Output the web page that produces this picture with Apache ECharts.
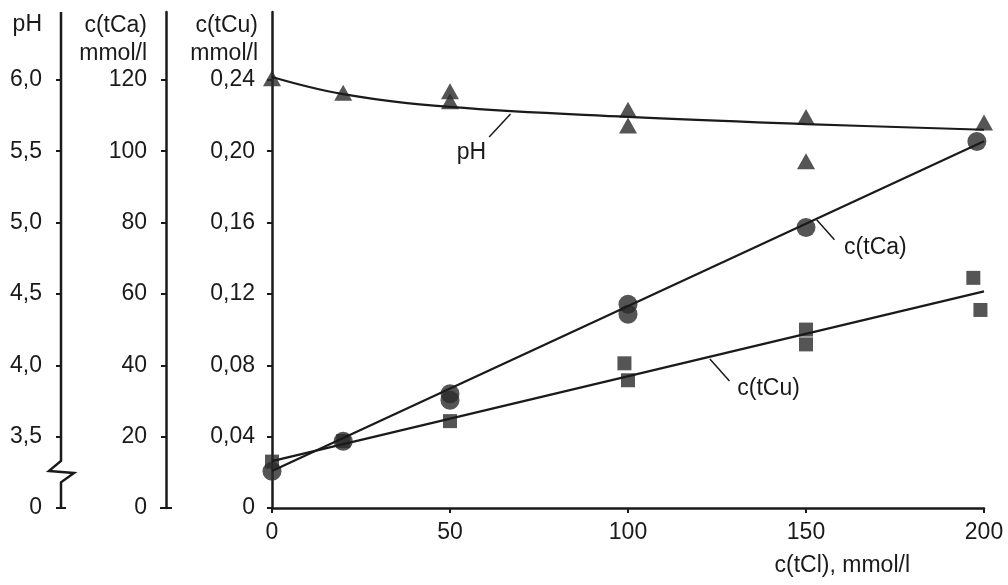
<!DOCTYPE html>
<html>
<head>
<meta charset="utf-8">
<script src="https://cdn.jsdelivr.net/npm/echarts@6/dist/echarts.min.js"></script>
<style>
  html, body { margin: 0; padding: 0; background: #fff; }
  #main { width: 1008px; height: 585px; }
</style>
</head>
<body>
<div id="main"></div>
<script>
// tick values on the axes
var xTicks = [0, 50, 100, 150, 200];
var cuTicks = [0, 0.04, 0.08, 0.12, 0.16, 0.20, 0.24];
var caTicks = [0, 20, 40, 60, 80, 100, 120];
var phTicks = [3.0, 3.5, 4.0, 4.5, 5.0, 5.5, 6.0]; // 3,0 is shown as "0" below the break

// measured points (x = c(tCl) mmol/l)
var phX = [0, 20, 50, 50, 100, 100, 150, 150, 200];
var phVals = [6.01, 5.91, 5.92, 5.85, 5.79, 5.68, 5.74, 5.43, 5.70];
var caX = [0, 20, 50, 50, 100, 100, 150, 198];
var caVals = [10.3, 18.7, 32.0, 30.2, 57.1, 54.3, 78.6, 102.7];
var cuX = [0, 20, 50, 99, 100, 150, 150, 197, 199];
var cuVals = [0.026, 0.0375, 0.0487, 0.0811, 0.0716, 0.100, 0.0917, 0.129, 0.111];

// fitted curves
var phFitX = [0, 20, 50, 100, 150, 200];
var phFit = [6.02, 5.90, 5.81, 5.74, 5.69, 5.65];
var caFitX = [0, 200];
var caFit = [10.4, 102.8];
var cuFitX = [0, 200];
var cuFit = [0.0263, 0.1214];

var FONT = 'Liberation Sans';
var INK = '#1a1a1a';
var MARK = '#2a2a2a';

function pairs(xs, ys) {
  var out = [];
  for (var i = 0; i < xs.length; i++) out.push([xs[i], ys[i]]);
  return out;
}
function comma(v, d) {
  return v.toFixed(d).replace('.', ',');
}

var chart = echarts.init(document.getElementById('main'));

var labelStyle = { color: INK, fontFamily: FONT, fontSize: 23 };

function yAxisBase(offset, min, max, ticks, labels, margin, fmt, name, pad, gap) {
  return {
    type: 'value',
    position: 'left',
    offset: offset,
    min: min,
    max: max,
    name: name,
    nameLocation: 'end',
    nameGap: gap,
    nameMoveOverlap: false,
    nameTextStyle: {
      color: INK, fontFamily: FONT, fontSize: 23, lineHeight: 28,
      align: 'right', verticalAlign: 'middle', padding: [0, pad, 0, 0]
    },
    splitLine: { show: false },
    axisLine: { show: true, lineStyle: { color: INK, width: 2.5 } },
    axisTick: { show: true, length: 5, customValues: ticks, lineStyle: { color: INK, width: 2 } },
    axisLabel: Object.assign({ margin: margin, customValues: labels, formatter: fmt }, labelStyle)
  };
}

var option = {
  animation: false,
  backgroundColor: '#fff',
  grid: { left: 272, right: 24, top: 12, bottom: 77, outerBoundsMode: 'none' },
  xAxis: {
    type: 'value',
    min: 0,
    max: 200,
    interval: 50,
    name: 'c(tCl), mmol/l',
    nameLocation: 'end',
    nameGap: -74,
    nameTextStyle: {
      color: INK, fontFamily: FONT, fontSize: 23,
      align: 'right', verticalAlign: 'top', padding: [46, 0, 0, 0]
    },
    splitLine: { show: false },
    axisLine: { onZero: false, lineStyle: { color: INK, width: 2.5 } },
    axisTick: { show: true, length: 5, lineStyle: { color: INK, width: 2 } },
    axisLabel: Object.assign({ margin: 13, customValues: xTicks }, labelStyle)
  },
  yAxis: [
    yAxisBase(0, 0, 0.278, cuTicks, cuTicks, 17,
      function (v) { return v === 0 ? '0' : comma(v, 2); }, 'c(tCu)\nmmol/l', 14, -28),
    // the 0 ticks of the two outer axes are drawn as caps further down
    yAxisBase(106, 0, 139, caTicks.slice(1), caTicks, 19,
      function (v) { return String(v); }, 'c(tCa)\nmmol/l', 19, -28),
    yAxisBase(211, 3, 6.475, phTicks.slice(1), phTicks, 19,
      function (v) { return v === 3 ? '0' : comma(v, 1); }, 'pH', 19, -13)
  ],
  series: [
    {
      name: 'pH fit', type: 'line', yAxisIndex: 2, smooth: 0.4, showSymbol: false,
      data: pairs(phFitX, phFit),
      lineStyle: { color: INK, width: 2.2 },
      markLine: {
        silent: true, symbol: 'none', label: { show: false },
        lineStyle: { color: INK, width: 1.5, type: 'solid' },
        data: [[{ coord: [61, 5.60] }, { coord: [67, 5.76] }]]
      },
      markPoint: {
        symbol: 'circle', symbolSize: 0,
        label: { show: true, formatter: 'pH', color: INK, fontFamily: FONT, fontSize: 23 },
        data: [{ coord: [56, 5.49] }]
      }
    },
    {
      name: 'Ca fit', type: 'line', yAxisIndex: 1, showSymbol: false,
      data: pairs(caFitX, caFit),
      lineStyle: { color: INK, width: 2.2 },
      markLine: {
        silent: true, symbol: 'none', label: { show: false },
        lineStyle: { color: INK, width: 1.5, type: 'solid' },
        data: [[{ coord: [153, 80.8] }, { coord: [158, 75.2] }]]
      },
      markPoint: {
        symbol: 'circle', symbolSize: 0,
        label: { show: true, formatter: 'c(tCa)', color: INK, fontFamily: FONT, fontSize: 23 },
        data: [{ coord: [169.5, 73.0] }]
      }
    },
    {
      name: 'Cu fit', type: 'line', yAxisIndex: 0, showSymbol: false,
      data: pairs(cuFitX, cuFit),
      lineStyle: { color: INK, width: 2.2 },
      markLine: {
        silent: true, symbol: 'none', label: { show: false },
        lineStyle: { color: INK, width: 1.5, type: 'solid' },
        data: [[{ coord: [123, 0.0835] }, { coord: [128.5, 0.0712] }]]
      },
      markPoint: {
        symbol: 'circle', symbolSize: 0,
        label: { show: true, formatter: 'c(tCu)', color: INK, fontFamily: FONT, fontSize: 23 },
        data: [{ coord: [139.5, 0.0668] }]
      }
    },
    {
      name: 'pH', type: 'scatter', yAxisIndex: 2, clip: false,
      symbol: 'triangle', symbolSize: [18, 16],
      itemStyle: { color: MARK },
      data: pairs(phX, phVals)
    },
    {
      name: 'c(tCa)', type: 'scatter', yAxisIndex: 1, clip: false,
      symbol: 'circle', symbolSize: 19,
      itemStyle: { color: MARK },
      data: pairs(caX, caVals)
    },
    {
      name: 'c(tCu)', type: 'scatter', yAxisIndex: 0, clip: false,
      symbol: 'rect', symbolSize: 14,
      itemStyle: { color: MARK },
      data: pairs(cuX, cuVals)
    }
  ]
};

// pH axis is broken between 0 and 3,5: hide its straight line and draw it with a zigzag
option.yAxis[2].axisLine.show = false;
chart.setOption(option);

var gx = chart.convertToPixel({ xAxisIndex: 0 }, 0);
var phAxisX = gx - 211;
var caAxisX = gx - 106;
var yTop = chart.convertToPixel({ yAxisIndex: 2 }, 6.475);
var yHi = chart.convertToPixel({ yAxisIndex: 2 }, 3.33);
var yLo = chart.convertToPixel({ yAxisIndex: 2 }, 3.18);
var yZero = chart.convertToPixel({ yAxisIndex: 2 }, 3);

chart.setOption({
  graphic: [
    {
      type: 'polyline',
      shape: {
        points: [
          [phAxisX, yTop], [phAxisX, yHi], [phAxisX - 12, yHi + 10],
          [phAxisX + 13, yHi + 12], [phAxisX, yLo], [phAxisX, yZero]
        ]
      },
      style: { stroke: INK, lineWidth: 2.5, fill: null }
    },
    {
      type: 'line',
      shape: { x1: phAxisX - 5, y1: yZero, x2: phAxisX + 5, y2: yZero },
      style: { stroke: INK, lineWidth: 2 }
    },
    {
      type: 'line',
      shape: { x1: caAxisX - 6, y1: yZero, x2: caAxisX + 6, y2: yZero },
      style: { stroke: INK, lineWidth: 2 }
    }
  ]
});
</script>
</body>
</html>
